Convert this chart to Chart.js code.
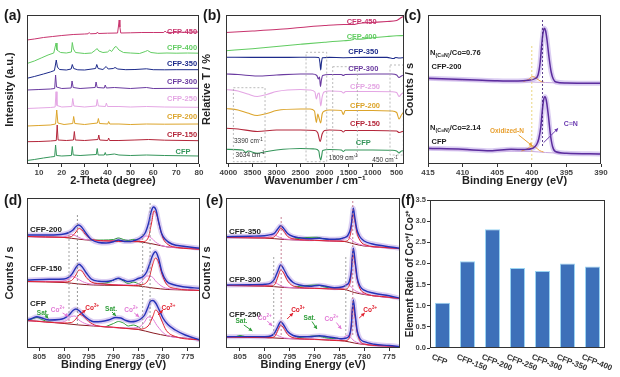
<!DOCTYPE html>
<html>
<head>
<meta charset="utf-8">
<script src="https://cdn.jsdelivr.net/npm/chart.js@4.4.1/dist/chart.umd.min.js"></script>
<style>
body{margin:0;width:620px;height:377px;background:#fff;position:relative;overflow:hidden;font-family:'Liberation Sans',Arial,sans-serif}
.w{position:absolute}
.lab{position:absolute;font-weight:bold;font-size:14px;line-height:14px;color:#1a1a1a}
</style>
</head>
<body>
<div class="w" style="left:0;top:0;width:206px;height:192px"><canvas id="ca"></canvas></div>
<div class="w" style="left:200px;top:0;width:210px;height:192px"><canvas id="cb"></canvas></div>
<div class="w" style="left:404px;top:0;width:216px;height:192px"><canvas id="cc"></canvas></div>
<div class="w" style="left:0;top:185px;width:210px;height:192px"><canvas id="cd"></canvas></div>
<div class="w" style="left:200px;top:185px;width:210px;height:192px"><canvas id="ce"></canvas></div>
<div class="w" style="left:402px;top:185px;width:218px;height:192px"><canvas id="cf"></canvas></div>
<div class="lab" style="left:4px;top:8px">(a)</div>
<div class="lab" style="left:203px;top:8px">(b)</div>
<div class="lab" style="left:404px;top:8px">(c)</div>
<div class="lab" style="left:4px;top:193px">(d)</div>
<div class="lab" style="left:206px;top:193px">(e)</div>
<div class="lab" style="left:401px;top:193px">(f)</div>
<script>
const FF = "'Liberation Sans', Arial, sans-serif";
Chart.defaults.font.family = FF;
Chart.defaults.animation = false;
Chart.defaults.plugins.legend.display = false;
Chart.defaults.plugins.tooltip.enabled = false;

// ---- (a) XRD, 2-theta vs offset intensity ----
const xrdTicks = [10, 20, 30, 40, 50, 60, 70, 80];
const xrd450 = [[4.8,124],[8,125],[12,126.5],[16,127.5],[20,128.5],[25,129.5],[30,130],[31.5,130.2],[32,131.5],[32.5,130.2],[35.2,130.5],[35.6,132],[36,130.5],[40,130.8],[44.4,131],[44.8,138],[45.1,144],[45.4,137],[45.8,131],[50,131.2],[55,131.5],[60,131.5],[64.6,131.5],[65.2,133],[65.8,131.5],[70,131.7],[75,131.8],[80,132]];
const xrd400 = [[4.8,100.5],[8,103],[11,106],[14,109],[16.5,111],[17.2,118],[17.5,121],[17.9,114],[18.5,113],[19.5,111.5],[22,111],[24.2,112],[24.6,121.5],[25.1,115],[26,111.5],[30,110.5],[33,111],[34.8,114],[35.4,115.5],[36.2,113],[38,111.5],[40,112],[41,114],[41.8,112.5],[43.2,117],[43.8,117.5],[45,114],[47,111.5],[50,111],[54,110.5],[56.5,112.5],[57.5,113.5],[59,111.5],[62,110.7],[66,111],[70,110.8],[75,111],[80,110.8]];
const xrd350 = [[4.8,85.7],[8,87.5],[12,90],[15,92],[16.8,93.5],[17.3,100],[17.6,104],[18.1,97],[19,94.5],[22,94],[24.1,95],[24.6,99.5],[25.2,95.5],[27,94.2],[30,94],[34.8,95.5],[35.3,99.5],[35.9,95.5],[38,94.5],[39.4,97.5],[40.3,95],[42.5,95.5],[43.3,96.5],[44.5,95],[48,94.3],[52,94.5],[57,95.2],[60,94.3],[65,94.2],[70,94.3],[80,94.3]];
const xrd300 = [[4.8,74],[10,74.5],[15,75],[16.9,75.5],[17.3,89],[17.7,77],[20,75.5],[24.1,76],[24.5,83],[25,76.5],[28,75.5],[34.6,76.5],[35,82],[35.5,76.5],[38.6,76],[39,79],[39.5,76],[43,76.5],[50,75.5],[57,76.5],[60,75.5],[70,75.7],[80,75.7]];
const xrd250 = [[4.8,55.5],[10,56],[15,56.5],[17.1,57],[17.5,72.3],[17.9,58.5],[20,57],[24.4,57.5],[24.8,65.5],[25.3,58],[30,57],[35.1,58],[35.5,64.5],[36,58],[39.1,57.5],[39.5,61],[40,57.5],[45,57.5],[50,57],[57,57.5],[65,57],[80,56.7]];
const xrd200 = [[4.8,38],[10,38.5],[15,39],[17.3,40],[17.8,54],[18.3,41],[21,39.5],[24.8,40.5],[25.2,47.5],[25.7,40.5],[30,39.5],[35.6,41],[36,45.5],[36.5,40.5],[40.1,40],[40.5,42.5],[41,40],[45,40],[50,39.5],[57,40],[65,39.8],[80,40]];
const xrd150 = [[4.8,22.3],[10,22.5],[15,23],[17.6,23.5],[18,39],[18.4,24],[22,23.5],[25.1,24],[25.5,32.5],[25.9,24],[30,23.5],[35.8,24.5],[36.2,29],[36.6,24],[40.1,23.5],[40.5,26],[40.9,23.5],[45,23.5],[52,24],[58,24.5],[65,23.8],[80,23.3]];
const xrdCFP = [[4.8,3.5],[8,4.5],[12,6],[15,7],[16.9,7.5],[17.3,19],[17.7,8.5],[20,8],[24.2,8.5],[24.6,17.5],[25,9],[28,8.5],[35.1,9.5],[35.5,15.5],[35.9,9],[38.6,9],[39,11.5],[39.4,9],[43,10],[45,9],[50,8.5],[57,9],[65,8.5],[80,8]];

// ---- (b) FTIR, wavenumber vs offset transmittance ----
const irTicks = [4000, 3500, 3000, 2500, 2000, 1500, 1000, 500];
const ir450 = [[4050,131.5],[3500,133],[3000,134.5],[2500,136.5],[2000,138.5],[1600,139.5],[1400,139.5],[1300,140.5],[1000,141.5],[700,142.5],[500,143.5],[420,146],[350,148]];
const ir400 = [[4050,113.3],[3500,115.3],[3000,117.5],[2500,119.7],[2000,121.8],[1600,123.3],[1400,124.5],[1370,126],[1340,124.7],[1000,126.3],[700,127.5],[500,128.2],[350,128.5]];
const ir350 = [[4050,106.8],[3500,106.6],[3000,106.6],[2500,106.7],[2200,106.7],[2120,106.5],[2095,101],[2080,94],[2065,101],[2045,106.3],[1900,106.6],[1610,106.3],[1200,106.6],[700,106.6],[560,105.5],[520,106.5],[450,106],[350,106.5]];
const ir300 = [[4050,90],[3800,89.5],[3400,88],[3000,89],[2500,90],[2250,90],[2160,88.5],[2130,85],[2105,87],[2085,77.5],[2065,84],[2040,88.5],[1900,89.5],[1650,89.5],[1610,88.5],[1570,89.5],[1000,90],[600,90],[500,89],[450,86.5],[400,88],[350,89]];
const ir250 = [[4050,74.5],[3800,73],[3600,70],[3400,67.5],[3200,69.5],[3000,72.5],[2500,74.5],[2300,74],[2200,72],[2170,65],[2140,70],[2110,71],[2080,58],[2050,67],[2010,72],[1900,73],[1650,72.5],[1610,71],[1560,72.5],[1000,72.5],[600,72.3],[500,71.5],[450,67.5],[400,70],[350,71.5]];
const ir200 = [[4050,55.5],[3800,54],[3600,51],[3400,48.5],[3200,50.5],[3000,53.5],[2500,55],[2300,55],[2210,53],[2170,41.5],[2140,50],[2120,47],[2080,41],[2050,50],[2000,53],[1900,54],[1650,53.5],[1610,49.5],[1570,53.5],[1000,53.5],[600,53],[500,51.5],[450,45],[400,49],[350,52]];
const ir150 = [[4050,35.7],[3800,35],[3400,32.5],[3000,34],[2500,34],[2200,33.5],[2140,31],[2090,22.5],[2050,30],[2000,33.5],[1900,34],[1650,33.5],[1610,32],[1570,33.5],[1000,33.5],[500,33],[450,31.5],[350,33]];
const irCFP = [[4050,14.7],[3700,14],[3634,11.5],[3590,13],[3400,10.7],[3200,12.5],[3000,14],[2500,15.5],[2200,15],[2120,13],[2100,7],[2080,4],[2060,8],[2040,13.5],[1900,14.5],[1650,14],[1609,12.5],[1570,14],[1000,14],[600,13.7],[500,13],[450,11],[400,13],[350,13.3]];

// ---- (c) N 1s XPS ----
const n1sTicks = [415, 410, 405, 400, 395, 390];
const cEnv200 = [[415,85.7],[412,85],[408,84],[405,83.3],[402,83],[400.5,83.8],[399.5,85.5],[399.1,89],[398.8,101],[398.6,117],[398.4,130],[398.2,135.7],[398,133],[397.8,124],[397.5,106],[397.2,92],[396.9,85],[396.5,82],[395,81],[392,80.7],[390,80.7]];
const cBg200 = [[415,84.5],[405,82.5],[400,82],[398,81.5],[395,80.8],[390,80.5]];
const cOx200 = [[401.2,82.5],[400.5,84.5],[399.9,87.5],[399.4,86],[398.8,83],[398.3,82]];
const cEnvCFP = [[415,15.7],[410,14.7],[406,13.3],[403,14.7],[401,14.5],[399.8,16],[399.3,19.5],[399,25],[398.7,37],[398.5,52],[398.3,64],[398.1,67.3],[397.9,63.5],[397.6,48],[397.3,29],[397,17.5],[396.6,12.5],[395,10.8],[390,10]];
const cBgCFP = [[415,14.5],[405,13],[400,12.5],[398,11.5],[395,10.5],[390,10]];
const cOxCFP = [[401.5,13],[400.7,15],[400,18],[399.5,17],[398.9,13.5],[398.3,12]];

// ---- (d) Co 2p XPS: CFP, CFP-150, CFP-200 ----
const co2pTicks = [805, 800, 795, 790, 785, 780, 775];
const dEnv200 = [[807.5,113],[803,113],[800,114],[799,115.5],[798.2,118],[797.6,121.5],[797.1,123],[796.5,121.3],[795.6,115],[794.5,108.5],[793,105.5],[791.5,105],[790,106.3],[789,108],[787.8,106.5],[786.5,106.5],[785.5,108],[784.6,110],[783.6,115],[782.9,125],[782.4,136],[781.9,141],[781.4,138],[780.9,127],[780.3,115],[779.5,108.5],[778.2,104],[775.5,101.5],[772.5,99.7]];
const dBg200 = [[807.5,111.5],[800,110.5],[797,108.8],[794,107.5],[785,106.3],[782,104],[779,101],[775,99.7],[772.5,98.8]];
const dRed200 = [[807.5,111.5],[800,110.6],[798.5,111.5],[797.6,116],[797,119.5],[796.4,118],[795.5,112.5],[794.3,108.5],[792,107.3],[786,106.3],[784,106.5],[783,110],[782.3,125],[781.8,137],[781.3,134],[780.7,122],[780,110],[779,103.5],[777,100.5],[772.5,98.8]];
const dPink200 = [[807.5,111.5],[801,110.7],[799.5,111.8],[798.5,113.5],[797.8,112.5],[796.5,109.5],[795,108],[790,107],[786,106.5],[784.5,108.5],[783.5,112],[782.6,111],[781.5,106],[780,102],[776,100],[772.5,98.8]];
const dGreen200 = [[795,107.8],[792,108],[790,108.5],[789,110],[788,108.5],[787,107.5],[786.2,108.5],[785.5,108],[784.5,106.5]];
const dEnv150 = [[807.5,68],[803,68.7],[800,69],[799,71],[798.3,74.7],[797.6,80.5],[797,83.7],[796.4,81.5],[795.5,75],[794.5,69],[793,66.8],[791.5,66.5],[790,68],[789,69.7],[788,68],[787,66.5],[786,67.3],[785,69.5],[784,71.5],[783.3,76],[782.7,84],[782.1,92.5],[781.5,96.3],[780.9,90],[780.2,76],[779.3,67],[778,63.5],[776,61.3],[772.5,59.7]];
const dBg150 = [[807.5,66.5],[800,65.5],[797,64],[794,63],[785,62],[782,60],[779,58.5],[775,58],[772.5,57.5]];
const dRed150 = [[807.5,66.5],[800,66],[798.5,67.5],[797.6,73],[797,78],[796.4,77],[795.5,70.5],[794.5,66],[792,64],[786,62.5],[784,63.5],[782.8,70],[782.1,83],[781.5,90],[780.9,86],[780.2,74],[779.3,64],[777.5,59.5],[772.5,57.5]];
const dPink150 = [[807.5,66.5],[801,66.5],[799.5,68],[798.3,71.5],[797.5,70],[796.3,66.5],[794.5,64],[790,63.5],[786,63],[784.5,65.5],[783.2,72],[782.3,71.5],[781.3,66],[779.5,60],[776,58.5],[772.5,57.5]];
const dGreen150 = [[794,64],[791,65.5],[789.2,69.5],[788.3,68],[787,64.5],[786,66],[785.3,65],[784.3,63]];
const dEnvCFP = [[807.5,28],[806.5,29.5],[805.5,31.3],[804.5,30],[803,28],[801,28.5],[800,29.7],[799,33],[798.2,37.5],[797.6,39],[797,37.5],[796,32.5],[795,28.5],[794,26.3],[792.5,26.5],[791,28],[789.5,30.5],[788.5,30],[787.5,27.5],[786.5,26.3],[785.5,26.8],[784.5,29],[783.7,33],[783,41],[782.5,47],[782,47.5],[781.4,44.5],[780.8,38.5],[780,30],[779,23.5],[777.5,18],[775.5,13],[772.5,8]];
const dBgCFP = [[807.5,27.5],[803,26],[800,24.5],[797,23],[794,22],[790,20.5],[785,18.5],[782,15],[779,12],[775,9.5],[772.5,8]];
const dRedCFP = [[807.5,27.5],[800,25],[798.5,25.5],[797.6,29],[796.8,33.5],[796,31.5],[795,26.5],[793.5,22.5],[790,20.8],[785,18.8],[783,22],[782,32],[781.5,38],[781,36],[780.3,28],[779.3,17.5],[777.5,11.5],[772.5,8]];
const dPinkCFP = [[807.5,27.5],[801,25.5],[799.5,27.5],[798.5,31.5],[797.8,32],[797,28],[795.5,24],[793,22],[787,20],[785,20.5],[783.8,25.5],[783,31],[782.2,30],[781.2,22.5],[779.5,13.5],[776,10],[772.5,8]];
const dGreenCFP = [[807.5,27.5],[806.2,29.5],[805.5,30.5],[804.5,28.5],[803,26],[802,25.5],[801.9,null],[791.5,21.5],[790,24.5],[789,26.5],[788,25],[787,22],[786,23],[785.3,22],[784.5,19.5]];

// ---- (e) Co 2p XPS: CFP-250, CFP-300, CFP-350 ----
const eEnv350 = [[807.8,111.3],[803,111.8],[800,112.3],[798.8,113.3],[798,115],[797.4,119],[796.8,122.3],[796.2,119.5],[795.4,114.5],[794.3,111.5],[793,110.2],[791,109.3],[789,109.8],[787,108.8],[785,109],[784,110.3],[783.3,112.5],[782.8,118.5],[782.5,127],[782.2,139.7],[781.9,131],[781.5,119],[780.9,111.5],[780,107],[778.5,104.3],[776,102],[772.8,99.7]];
const eBg350 = [[807.8,110.5],[800,110],[796,108.5],[790,107.5],[784,106.5],[782,104],[780,102],[776,100.5],[772.8,99.3]];
const eRed350 = [[807.8,110.5],[799,110],[798,111.5],[797.3,116],[796.8,120],[796.2,117],[795.4,111.5],[794,109],[790,107.7],[784,106.7],[783.2,108],[782.7,116],[782.3,134],[781.9,127.5],[781.5,116],[780.9,108],[780,103.5],[776,100.6],[772.8,99.3]];
const ePink350 = [[807.8,110.5],[800,110.3],[798.7,112],[798.1,113.3],[797.4,111.5],[796,109],[790,107.6],[785,107],[784.2,108.5],[783.6,111.5],[783,110.5],[782,106],[780,102.5],[772.8,99.3]];
const eGreen350 = [[794,109],[791.5,110.5],[789.5,110.7],[788,109],[786.5,108.3],[785.5,108.7],[784.5,107.5]];
const eEnv300 = [[807.8,63],[803,63.3],[800,63.7],[798.8,65],[798.1,68.5],[797.4,76.5],[796.8,83],[796.2,79],[795.4,71.5],[794.3,65.5],[793,63],[791,61.7],[789,62.8],[787.5,61.5],[786,60.3],[784.5,61],[783.6,63],[783,66.5],[782.6,77],[782.2,99.7],[781.8,86],[781.4,70],[780.8,61.5],[780,57.8],[778,54.7],[775,52.2],[772.8,49.7]];
const eBg300 = [[807.8,62.5],[800,62],[796,60.5],[790,59.5],[784,58.5],[782,55.5],[780,53.5],[776,51],[772.8,49.5]];
const eRed300 = [[807.8,62.5],[799,62],[798,63.5],[797.3,72],[796.8,78],[796.2,75],[795.4,67],[794,61.5],[790,59.7],[784,58.8],[783.2,60.5],[782.7,70],[782.3,93],[781.9,86],[781.5,71],[780.9,60],[780,55],[776,51.3],[772.8,49.5]];
const ePink300 = [[807.8,62.5],[800,62.3],[798.7,64],[798.1,66],[797.4,64],[796,61],[790,59.7],[785,59],[784.2,60.5],[783.6,64],[783,63],[782,58],[780,54],[772.8,49.5]];
const eGreen300 = [[794,61],[791.5,62.5],[789.5,63],[788,61],[786.5,60],[785.5,60.5],[784.5,59]];
const eEnv250 = [[807.8,11.3],[803,11.4],[800,11.3],[798.8,12],[798.1,14.5],[797.4,21],[796.8,26.3],[796.2,23],[795.4,16.5],[794.3,12.5],[793,11.3],[791,11.3],[789,12.3],[787.5,11.3],[786,10.3],[784.5,9.3],[783.6,10],[783,12.5],[782.6,22],[782.2,48],[781.8,33],[781.4,17],[780.8,9],[780,6.3],[778,3.7],[775,2.5],[772.8,1.3]];
const eBg250 = [[807.8,11],[800,10.5],[796,9.5],[790,8.5],[784,7],[782,5],[780,3.5],[776,2],[772.8,1]];
const eRed250 = [[807.8,11],[799,10.3],[798,11.5],[797.3,18.5],[796.8,23],[796.2,20],[795.4,13.5],[794,10],[790,8.7],[784,7.2],[783.2,8.5],[782.7,18],[782.3,42],[781.9,33],[781.5,18],[780.9,7.5],[780,4],[776,2.2],[772.8,1]];
const ePink250 = [[807.8,11],[800,10.7],[798.7,12.5],[798.1,14],[797.4,12.5],[796,10],[790,8.7],[785,8],[784.2,9.5],[783.6,12.5],[783,11.8],[782,7],[780,3.8],[772.8,1]];
const eGreen250 = [[806,11],[805,12.5],[804,11.5],[802,10.7],[801.9,null],[793.5,10],[791.5,11.5],[789.5,12],[788,10.5],[786.5,9.5],[785.5,9.8],[784.5,8]];

// ---- (f) Co3+/Co2+ ratio ----
const fCats = ['CFP', 'CFP-150', 'CFP-200', 'CFP-250', 'CFP-300', 'CFP-350', 'CFP-400'];
const fVals = [1.07, 2.05, 2.81, 1.89, 1.82, 2.00, 1.93];
const fTicks = [0, 0.5, 1, 1.5, 2, 2.5, 3, 3.5];
const fTickLabels = ['0.0', '0.5', '1.0', '1.5', '2.0', '2.5', '3.0', '3.5'];

const C = {
  s450: '#c8346e', s400: '#62cc62', s350: '#1c2a8a', s300: '#6a3aa0',
  s250: '#e4a6e4', s200: '#dca42a', s150: '#b4263a', sCFP: '#34955a',
  env: '#2632b8', red: '#e0202e', pink: '#e27ad6', green: '#2f9e3a', bg: '#8a1a22',
  dots: 'rgba(190,165,232,0.55)'
};

function line(data, color, w, extra) {
  return Object.assign({ data, borderColor: color, borderWidth: w, pointRadius: 0, fill: false, tension: 0, spanGaps: false }, extra || {});
}
const smooth = { cubicInterpolationMode: 'monotone' };

function drawRich(ctx, t, x, y, size, color, align, weight) {
  const segs = Array.isArray(t) ? t : [[t, '']];
  ctx.fillStyle = color;
  ctx.textBaseline = 'middle';
  ctx.textAlign = 'left';
  const fontOf = k => `${weight || 'bold'} ${k ? size * 0.7 : size}px ${FF}`;
  const ws = segs.map(([s, k]) => { ctx.font = fontOf(k); return ctx.measureText(s).width; });
  const tot = ws.reduce((p, q) => p + q, 0);
  let cx = align === 'left' ? x : align === 'right' ? x - tot : x - tot / 2;
  segs.forEach(([s, k], i) => {
    ctx.font = fontOf(k);
    ctx.fillText(s, cx, y + (k === 'sub' ? size * 0.3 : k === 'sup' ? -size * 0.35 : 0));
    cx += ws[i];
  });
}

function arrow(ctx, x1, y1, x2, y2, c) {
  ctx.setLineDash([]);
  ctx.strokeStyle = c; ctx.fillStyle = c; ctx.lineWidth = 1;
  ctx.beginPath(); ctx.moveTo(x1, y1); ctx.lineTo(x2, y2); ctx.stroke();
  const an = Math.atan2(y2 - y1, x2 - x1), h = 4;
  ctx.beginPath();
  ctx.moveTo(x2, y2);
  ctx.lineTo(x2 - h * Math.cos(an - 0.5), y2 - h * Math.sin(an - 0.5));
  ctx.lineTo(x2 - h * Math.cos(an + 0.5), y2 - h * Math.sin(an + 0.5));
  ctx.closePath(); ctx.fill();
}

// annotations placed in data space, plus the box frame round the plot
function deco(spec) {
  return {
    id: 'deco',
    afterDraw(chart) {
      const { ctx, chartArea: a } = chart;
      const xs = chart.scales.x, ys = chart.scales.y;
      const X = v => xs.getPixelForValue(v), Y = v => ys.getPixelForValue(v);
      ctx.save();
      (spec.boxes || []).forEach(b => {
        ctx.setLineDash([2, 2]); ctx.lineWidth = 0.8; ctx.strokeStyle = b.c || '#aaa';
        ctx.strokeRect(X(b.x1), Y(b.y2), X(b.x2) - X(b.x1), Y(b.y1) - Y(b.y2));
      });
      (spec.vlines || []).forEach(v => {
        ctx.setLineDash([2, 2]); ctx.lineWidth = 0.9; ctx.strokeStyle = v.c;
        ctx.beginPath(); ctx.moveTo(X(v.x), Y(v.y1)); ctx.lineTo(X(v.x), Y(v.y2)); ctx.stroke();
      });
      (spec.arrows || []).forEach(r => arrow(ctx, X(r.x1), Y(r.y1), X(r.x2), Y(r.y2), r.c));
      (spec.texts || []).forEach(t => drawRich(ctx, t.t, X(t.x), Y(t.y), t.s || 7.5, t.c || '#222', t.al || 'center', t.w));
      if (spec.rotLabels) {
        ctx.fillStyle = '#333'; ctx.font = `bold 8px ${FF}`;
        ctx.textAlign = 'left'; ctx.textBaseline = 'top';
        spec.rotLabels.forEach((s, i) => {
          ctx.save();
          ctx.translate(X(i) - 9, a.bottom + 5);
          ctx.rotate(0.38);
          ctx.fillText(s, 0, 0);
          ctx.restore();
        });
      }
      ctx.setLineDash([]); ctx.strokeStyle = '#333'; ctx.lineWidth = 1;
      ctx.strokeRect(a.left + 0.5, a.top + 0.5, a.width - 1, a.height - 1);
      ctx.restore();
    }
  };
}

function xAxis(min, max, rev, ticks, title, h, pb) {
  return {
    type: 'linear', min, max, reverse: rev,
    afterBuildTicks: s => { s.ticks = ticks.map(v => ({ value: v })); },
    afterFit: s => { s.height = h; },
    ticks: { font: { size: 8, weight: 'bold' }, color: '#444', padding: 1, maxRotation: 0, autoSkip: false, callback: v => String(v) },
    grid: { drawOnChartArea: false, tickLength: 3, color: '#333' },
    border: { display: false },
    title: { display: true, text: title, color: '#222', font: { size: 11, weight: 'bold' }, padding: { top: 0, bottom: pb } }
  };
}

function yAxis(max, title, w, tp, lh) {
  return {
    min: 0, max,
    ticks: { display: false }, grid: { display: false }, border: { display: false },
    afterFit: s => { s.width = w; },
    title: { display: true, text: title, color: '#222', font: { size: 11, weight: 'bold', lineHeight: lh || 1.2 }, padding: { top: tp, bottom: 0 } }
  };
}

function panel(id, pad, datasets, xs, ys, spec) {
  new Chart(document.getElementById(id), {
    type: 'line',
    data: { datasets },
    options: {
      responsive: true, maintainAspectRatio: false,
      layout: { padding: { top: pad[0], right: pad[1], left: 0, bottom: 0 } },
      scales: { x: xs, y: ys }
    },
    plugins: [deco(spec)]
  });
}

// (a)
panel('ca', [15, 7], [
  line(xrd450, C.s450, 1), line(xrd400, C.s400, 1), line(xrd350, C.s350, 1), line(xrd300, C.s300, 1),
  line(xrd250, C.s250, 1), line(xrd200, C.s200, 1), line(xrd150, C.s150, 1), line(xrdCFP, C.sCFP, 1)
], xAxis(4.8, 80, false, xrdTicks, '2-Theta (degree)', 28, 4.4), yAxis(149, 'Intensity (a.u.)', 27, 3.4), {
  texts: [
    { x: 72.6, y: 131.7, t: 'CFP-450', c: C.s450 }, { x: 72.6, y: 116.3, t: 'CFP-400', c: C.s400 },
    { x: 72.6, y: 99.7, t: 'CFP-350', c: C.s350 }, { x: 72.6, y: 82.3, t: 'CFP-300', c: C.s300 },
    { x: 72.6, y: 64.7, t: 'CFP-250', c: C.s250 }, { x: 72.6, y: 47.3, t: 'CFP-200', c: C.s200 },
    { x: 72.6, y: 29, t: 'CFP-150', c: C.s150 }, { x: 73, y: 11.7, t: 'CFP', c: C.sCFP }
  ]
});

// (b)
panel('cb', [15, 6], [
  line(ir450, C.s450, 1.1, smooth), line(ir400, C.s400, 1.1, smooth), line(ir350, C.s350, 1.1, smooth), line(ir300, C.s300, 1.1, smooth),
  line(ir250, C.s250, 1.1, smooth), line(ir200, C.s200, 1.1, smooth), line(ir150, C.s150, 1.1, smooth), line(irCFP, C.sCFP, 1.1, smooth)
], xAxis(347, 4050, true, irTicks, 'Wavenumber / cm⁻¹', 28, 4.4), yAxis(149, 'Relative T / %', 26, 0.4), {
  boxes: [
    { x1: 3896, x2: 3238, y1: 2.3, y2: 76.3 }, { x1: 2385, x2: 1955, y1: 2.3, y2: 111.7 },
    { x1: 1830, x2: 1317, y1: 7.3, y2: 97.3 }, { x1: 638, x2: 361, y1: 9, y2: 99 }
  ],
  texts: [
    { x: 1227, y: 142.3, t: 'CFP-450', c: C.s450 }, { x: 1227, y: 127.3, t: 'CFP-400', c: C.s400 },
    { x: 1193, y: 112.3, t: 'CFP-350', c: C.s350 }, { x: 1193, y: 94.7, t: 'CFP-300', c: C.s300 },
    { x: 1158, y: 77.3, t: 'CFP-250', c: C.s250 }, { x: 1158, y: 58.3, t: 'CFP-200', c: C.s200 },
    { x: 1158, y: 39.7, t: 'CFP-150', c: C.s150 }, { x: 1193, y: 20.7, t: 'CFP', c: C.sCFP },
    { x: 3584, y: 22.3, t: [['3390 cm', ''], ['-1', 'sup']], s: 6.5, c: '#333', w: 'normal' },
    { x: 3550, y: 9, t: [['3634 cm', ''], ['-1', 'sup']], s: 6.5, c: '#333', w: 'normal' },
    { x: 1609, y: 5.7, t: [['1609 cm', ''], ['-1', 'sup']], s: 6.5, c: '#333', w: 'normal' },
    { x: 742, y: 4, t: [['450 cm', ''], ['-1', 'sup']], s: 6.5, c: '#333', w: 'normal' }
  ]
});

// (c)
panel('cc', [15, 19], [
  line(cEnv200, '#5b2d9e', 1.5, smooth), line(cOx200, '#f0a040', 1, smooth), line(cBg200, '#c8a8e0', 1, smooth),
  line(cEnvCFP, '#5b2d9e', 1.5, smooth), line(cOxCFP, '#f0a040', 1, smooth), line(cBgCFP, '#c8a8e0', 1, smooth),
  line(cEnv200, C.dots, 5, smooth), line(cEnvCFP, C.dots, 5, smooth)
], xAxis(415, 390, true, n1sTicks, 'Binding Energy (eV)', 28, 4.4), yAxis(149, 'Counts / s', 24, 0.5, 1), {
  vlines: [{ x: 400, y1: 4, y2: 119, c: '#e8d070' }, { x: 398.45, y1: 18, y2: 144, c: '#4a2a80' }],
  arrows: [
    { x1: 401.9, y1: 29, x2: 399.9, y2: 18, c: '#e8a030' },
    { x1: 398.3, y1: 21.3, x2: 396.2, y2: 35.7, c: '#6a3ab0' }
  ],
  texts: [
    { x: 414.7, y: 110.7, t: [['N', ''], ['(C≡N)', 'sub'], ['/Co=0.76', '']], al: 'left', s: 7.5 },
    { x: 414.5, y: 97.3, t: 'CFP-200', al: 'left', s: 7.5 },
    { x: 414.7, y: 35.7, t: [['N', ''], ['(C≡N)', 'sub'], ['/Co=2.14', '']], al: 'left', s: 7.5 },
    { x: 414.5, y: 22.3, t: 'CFP', al: 'left', s: 7.5 },
    { x: 403.6, y: 33, t: 'Oxidized-N', c: '#e8a030', s: 6.5 },
    { x: 395.4, y: 40, t: 'C≡N', c: '#6a3ab0', al: 'left', s: 7 }
  ]
});

// (d)
panel('cd', [13, 10], [
  line(dEnv200, C.env, 1.4, smooth), line(dRed200, C.red, 1, smooth), line(dPink200, C.pink, 1, smooth), line(dGreen200, C.green, 1, smooth), line(dBg200, C.bg, 1, smooth),
  line(dEnv150, C.env, 1.4, smooth), line(dRed150, C.red, 1, smooth), line(dPink150, C.pink, 1, smooth), line(dGreen150, C.green, 1, smooth), line(dBg150, C.bg, 1, smooth),
  line(dEnvCFP, C.env, 1.4, smooth), line(dRedCFP, C.red, 1, smooth), line(dPinkCFP, C.pink, 1, smooth), line(dGreenCFP, C.green, 1, smooth), line(dBgCFP, C.bg, 1, smooth),
  line(dEnv200, C.dots, 5, smooth), line(dEnv150, C.dots, 5, smooth), line(dEnvCFP, C.dots, 5, smooth)
], xAxis(807.5, 772.5, true, co2pTicks, 'Binding Energy (eV)', 29, 5.4), yAxis(150, 'Counts / s', 27, 3.4), {
  vlines: [
    { x: 799, y1: 23, y2: 116, c: '#999' }, { x: 797.3, y1: 23, y2: 133, c: '#8a8a8a' },
    { x: 784.1, y1: 20, y2: 116, c: '#999' }, { x: 782.6, y1: 23, y2: 145, c: '#8a8a8a' }
  ],
  arrows: [
    { x1: 803.8, y1: 33, x2: 803.2, y2: 29.5, c: C.green },
    { x1: 800.3, y1: 35, x2: 799.1, y2: 31.5, c: C.pink },
    { x1: 797, y1: 33, x2: 795.6, y2: 38, c: C.red },
    { x1: 790.3, y1: 36, x2: 789.5, y2: 32, c: C.green },
    { x1: 785.8, y1: 35, x2: 784.8, y2: 31, c: C.pink },
    { x1: 781, y1: 33, x2: 780, y2: 38, c: C.red }
  ],
  texts: [
    { x: 806.9, y: 118, t: 'CFP-200', al: 'left', s: 8 },
    { x: 806.9, y: 79.7, t: 'CFP-150', al: 'left', s: 8 },
    { x: 806.9, y: 44.7, t: 'CFP', al: 'left', s: 8 },
    { x: 804.3, y: 35, t: 'Sat.', c: C.green, s: 6.5 },
    { x: 801.3, y: 38, t: [['Co', ''], ['2+', 'sup']], c: C.pink, s: 6.5 },
    { x: 794.3, y: 40, t: [['Co', ''], ['3+', 'sup']], c: C.red, s: 6.5 },
    { x: 790.5, y: 38.5, t: 'Sat.', c: C.green, s: 6.5 },
    { x: 786.4, y: 37.5, t: [['Co', ''], ['2+', 'sup']], c: C.pink, s: 6.5 },
    { x: 778.9, y: 40, t: [['Co', ''], ['3+', 'sup']], c: C.red, s: 6.5 }
  ]
});

// (e)
panel('ce', [13, 10], [
  line(eEnv350, C.env, 1.4, smooth), line(eRed350, C.red, 1, smooth), line(ePink350, C.pink, 1, smooth), line(eGreen350, C.green, 1, smooth), line(eBg350, C.bg, 1, smooth),
  line(eEnv300, C.env, 1.4, smooth), line(eRed300, C.red, 1, smooth), line(ePink300, C.pink, 1, smooth), line(eGreen300, C.green, 1, smooth), line(eBg300, C.bg, 1, smooth),
  line(eEnv250, C.env, 1.4, smooth), line(eRed250, C.red, 1, smooth), line(ePink250, C.pink, 1, smooth), line(eGreen250, C.green, 1, smooth), line(eBg250, C.bg, 1, smooth),
  line(eEnv350, C.dots, 5, smooth), line(eEnv300, C.dots, 5, smooth), line(eEnv250, C.dots, 5, smooth)
], xAxis(807.8, 772.8, true, co2pTicks, 'Binding Energy (eV)', 29, 5.4), yAxis(150, 'Counts / s', 26, 0.4), {
  vlines: [
    { x: 798.2, y1: 13, y2: 91, c: '#999' }, { x: 796.7, y1: 13, y2: 131, c: '#c07088' },
    { x: 783.7, y1: 13, y2: 91, c: '#999' }, { x: 782.3, y1: 13, y2: 148, c: '#c07088' }
  ],
  arrows: [
    { x1: 804.2, y1: 23, x2: 802.5, y2: 17, c: C.green },
    { x1: 799.5, y1: 27, x2: 798.5, y2: 22, c: C.pink },
    { x1: 795.5, y1: 29, x2: 794.3, y2: 35, c: C.red },
    { x1: 790.5, y1: 26.5, x2: 789.5, y2: 19, c: C.green },
    { x1: 785.6, y1: 25.5, x2: 784.6, y2: 19, c: C.pink },
    { x1: 781, y1: 30, x2: 779.9, y2: 35, c: C.red }
  ],
  texts: [
    { x: 807.2, y: 116.3, t: 'CFP-350', al: 'left', s: 8 },
    { x: 807.2, y: 68, t: 'CFP-300', al: 'left', s: 8 },
    { x: 807.2, y: 33, t: 'CFP-250', al: 'left', s: 8 },
    { x: 804.7, y: 27, t: 'Sat.', c: C.green, s: 6.5 },
    { x: 800, y: 30, t: [['Co', ''], ['2+', 'sup']], c: C.pink, s: 6.5 },
    { x: 793.3, y: 38, t: [['Co', ''], ['3+', 'sup']], c: C.red, s: 6.5 },
    { x: 791, y: 29.5, t: 'Sat.', c: C.green, s: 6.5 },
    { x: 786.6, y: 28.5, t: [['Co', ''], ['2+', 'sup']], c: C.pink, s: 6.5 },
    { x: 778.8, y: 38, t: [['Co', ''], ['3+', 'sup']], c: C.red, s: 6.5 }
  ]
});

// (f)
new Chart(document.getElementById('cf'), {
  type: 'bar',
  data: {
    labels: fCats,
    datasets: [{ data: fVals, backgroundColor: '#3d70b9', borderColor: '#9ad4f2', borderWidth: 1, barPercentage: 0.6, categoryPercentage: 1 }]
  },
  options: {
    responsive: true, maintainAspectRatio: false,
    layout: { padding: { top: 15, right: 15, left: 0, bottom: 0 } },
    scales: {
      x: {
        ticks: { display: false }, grid: { display: false }, border: { display: false },
        afterFit: s => { s.height = 29; }
      },
      y: {
        min: 0, max: 3.5,
        afterBuildTicks: s => { s.ticks = fTicks.map(v => ({ value: v })); },
        afterFit: s => { s.width = 28; },
        ticks: { callback: (v, i) => fTickLabels[i], font: { size: 7.5, weight: 'bold' }, color: '#444', padding: 1 },
        grid: { drawOnChartArea: false, tickLength: 3, color: '#333' },
        border: { display: false },
        title: { display: true, text: 'Element Ratio of Co³⁺/ Co²⁺', color: '#222', font: { size: 10, weight: 'bold' }, padding: { top: 2, bottom: 0 } }
      }
    }
  },
  plugins: [deco({ rotLabels: fCats })]
});
</script>
</body>
</html>
